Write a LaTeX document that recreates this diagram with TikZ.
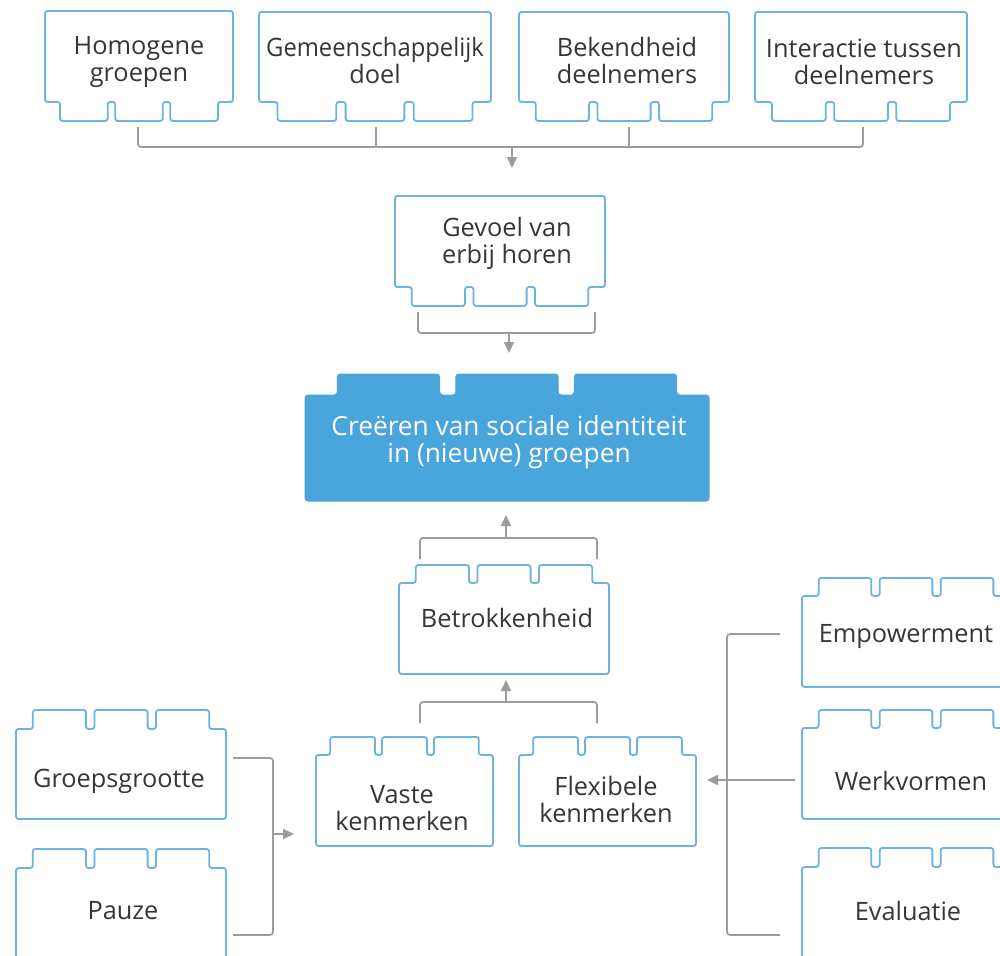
\documentclass[tikz,border=0pt]{standalone}
\usepackage{fontspec}
\usepackage{graphicx}
\setmainfont{Open Sans}
\usetikzlibrary{arrows.meta}
\definecolor{brickblue}{HTML}{6BB3E3}
\definecolor{mainblue}{HTML}{4AA5DC}
\definecolor{textgray}{HTML}{363636}
\definecolor{conngray}{HTML}{9C9C9C}
\tikzset{
  brickline/.style={draw=brickblue, line width=1.8pt, rounded corners=2.5pt, fill=white},
  brickfill/.style={draw=mainblue, line width=1pt, fill=mainblue, rounded corners=3pt},
  lbl/.style={font=\fontsize{25.3}{27}\selectfont, text=textgray, align=center, inner sep=0pt},
  mainlbl/.style={font=\fontsize{26.3}{27}\selectfont, text=white, align=center, inner sep=0pt},
  conn/.style={draw=conngray, line width=1.7pt, rounded corners=3pt},
  arr/.style={draw=conngray, line width=1.7pt, -{Triangle[length=11pt,width=10pt]}}
}
% #1 x1, #2 x2, #3 body top, #4 body bottom, #5 style; tabs hang below
\newcommand\brickdown[5]{%
  \pgfmathsetmacro\bw{#2-#1}%
  \pgfmathsetmacro\bm{0.08*\bw}%
  \pgfmathsetmacro\bg{0.04*\bw}%
  \pgfmathsetmacro\bt{(\bw-2*\bm-2*\bg)/3}%
  \pgfmathsetmacro\xa{#1+\bm}%
  \pgfmathsetmacro\xb{\xa+\bt}%
  \pgfmathsetmacro\xc{\xb+\bg}%
  \pgfmathsetmacro\xd{\xc+\bt}%
  \pgfmathsetmacro\xe{\xd+\bg}%
  \pgfmathsetmacro\xf{\xe+\bt}%
  \pgfmathsetmacro\yt{#4+19}%
  \path[#5] (#1,#3) -- (#2,#3) -- (#2,#4) -- (\xf,#4) -- (\xf,\yt) -- (\xe,\yt) -- (\xe,#4)
    -- (\xd,#4) -- (\xd,\yt) -- (\xc,\yt) -- (\xc,#4) -- (\xb,#4) -- (\xb,\yt) -- (\xa,\yt)
    -- (\xa,#4) -- (#1,#4) -- cycle;}
% tabs stand on top
\newcommand\brickup[6]{%
  \pgfmathsetmacro\bw{#2-#1}%
  \pgfmathsetmacro\bm{0.08*\bw}%
  \pgfmathsetmacro\bg{0.04*\bw}%
  \pgfmathsetmacro\bt{(\bw-2*\bm-2*\bg)/3}%
  \pgfmathsetmacro\xa{#1+\bm}%
  \pgfmathsetmacro\xb{\xa+\bt}%
  \pgfmathsetmacro\xc{\xb+\bg}%
  \pgfmathsetmacro\xd{\xc+\bt}%
  \pgfmathsetmacro\xe{\xd+\bg}%
  \pgfmathsetmacro\xf{\xe+\bt}%
  \pgfmathsetmacro\yt{#3-#6}%
  \path[#5] (#1,#4) -- (#2,#4) -- (#2,#3) -- (\xf,#3) -- (\xf,\yt) -- (\xe,\yt) -- (\xe,#3)
    -- (\xd,#3) -- (\xd,\yt) -- (\xc,\yt) -- (\xc,#3) -- (\xb,#3) -- (\xb,\yt) -- (\xa,\yt)
    -- (\xa,#3) -- (#1,#3) -- cycle;}
\begin{document}
\begin{tikzpicture}[x=1pt,y=-1pt]
\useasboundingbox (0,0) rectangle (1000,955);
\clip (0,0) rectangle (1000,955);
\fill[white] (0,0) rectangle (1000,955);

% top row
\brickdown{45}{233}{11}{102}{brickline}
\brickdown{259}{491}{12}{102}{brickline}
\brickdown{519}{729}{12}{102}{brickline}
\brickdown{755}{967}{12}{102}{brickline}
\node[lbl] (hom) at (139,62) {Homogene\\groepen};
\node[lbl] (gem) at (375,61) {\scalebox{0.94}[1]{Gemeenschappelijk}\\doel};
\node[lbl] (bek) at (627,61) {Bekendheid\\deelnemers};
\node[lbl] (int) at (864,62) {Interactie tussen\\deelnemers};

% Gevoel
\brickdown{395}{605}{196}{287}{brickline}
\node[lbl] (gev) at (507,243) {Gevoel van\\erbij horen};

% main
\brickup{305}{709}{395}{501}{brickfill}{21}
\node[mainlbl] (main) at (509,442) {Creëren van sociale identiteit\\in (nieuwe) groepen};

% Betrokkenheid
\brickup{399}{609}{583}{674}{brickline}{18}
\node[lbl] (bet) at (507,618) {Betrokkenheid};

% Vaste / Flexibele
\brickup{316}{493}{755}{846}{brickline}{18}
\brickup{519}{696}{755}{846}{brickline}{18}
\node[lbl] (vas) at (402,808) {Vaste\\kenmerken};
\node[lbl] (fle) at (606,800) {Flexibele\\kenmerken};

% left column
\brickup{16}{226}{729}{819}{brickline}{19}
\brickup{16}{226}{868}{962}{brickline}{19}
\node[lbl] (gro) at (119,781) {Groepsgrootte};
\node[lbl] (pau) at (123,911) {Pauze};

% right column
\brickup{802}{1010}{596}{687}{brickline}{18}
\brickup{802}{1010}{728}{819}{brickline}{18}
\brickup{802}{1010}{867}{962}{brickline}{19}
\node[lbl] (emp) at (906,636) {Empowerment};
\node[lbl] (wer) at (911,781) {Werkvormen};
\node[lbl] (eva) at (908,911) {Evaluatie};

% connector coordinates
\coordinate (homo) at (138,127);
\coordinate (gemo) at (376,127);
\coordinate (beko) at (629,127);
\coordinate (into) at (863,127);
\coordinate (bus1) at (512,147);
\coordinate (gevi) at (512,168);
\coordinate (gevl) at (418,312);
\coordinate (gevr) at (595,312);
\coordinate (bus2) at (509,333);
\coordinate (maini) at (509,353);
\coordinate (betl) at (420,559);
\coordinate (betr) at (597,559);
\coordinate (bus3) at (506,538);
\coordinate (mainb) at (506,515);
\coordinate (vasl) at (420,723);
\coordinate (fler) at (597,723);
\coordinate (bus4) at (506,702);
\coordinate (beti) at (506,680);
\coordinate (groo) at (233,758);
\coordinate (pauo) at (233,935);
\coordinate (bus5) at (273,834);
\coordinate (vasi) at (294,834);
\coordinate (empo) at (780,634);
\coordinate (evao) at (780,935);
\coordinate (bus6) at (727,780);
\coordinate (wero) at (795,780);
\coordinate (flei) at (707,780);

% connectors
\draw[conn] (homo) -- (homo |- bus1) -- (into |- bus1) -- (into);
\draw[conn] (gemo) -- (gemo |- bus1);
\draw[conn] (beko) -- (beko |- bus1);
\draw[arr] (bus1) -- (gevi);

\draw[conn] (gevl) -- (gevl |- bus2) -- (gevr |- bus2) -- (gevr);
\draw[arr] (bus2) -- (maini);

\draw[conn] (betl) -- (betl |- bus3) -- (betr |- bus3) -- (betr);
\draw[arr] (bus3) -- (mainb);

\draw[conn] (vasl) -- (vasl |- bus4) -- (fler |- bus4) -- (fler);
\draw[arr] (bus4) -- (beti);

\draw[conn] (groo) -- (bus5 |- groo) -- (bus5 |- pauo) -- (pauo);
\draw[arr] (bus5) -- (vasi);

\draw[conn] (empo) -- (bus6 |- empo) -- (bus6 |- evao) -- (evao);
\draw[arr] (wero) -- (flei);
\end{tikzpicture}
\end{document}
